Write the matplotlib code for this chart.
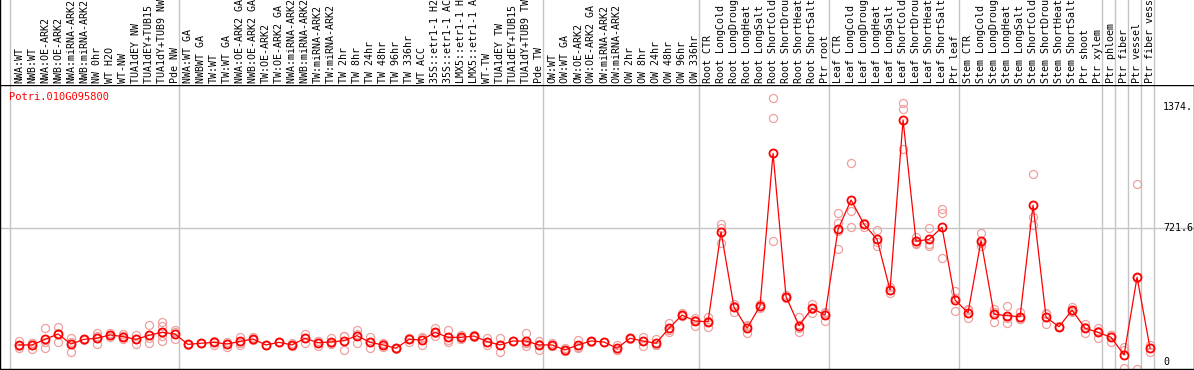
import matplotlib
matplotlib.use("Agg")
import matplotlib.pyplot as plt
import matplotlib.transforms as mtransforms

# GENE AND SAMPLE NAMES: one label per column, left to right.

gene_id = "Potri.010G095800"

labels = [
    # group 1
    "NWA:WT", "NWB:WT", "NWA:OE-ARK2", "NWB:OE-ARK2", "NWA:miRNA-ARK2",
    "NWB:miRNA-ARK2", "NW 0hr", "WT H2O", "WT-NW", "TUA1dEY NW",
    "TUA1dEY+TUB15 NW", "TUA1dY+TUB9 NW", "Pde NW",
    # group 2
    "NWA:WT GA", "NWBWT GA", "TW:WT", "TW:WT GA", "NWA:OE-ARK2 GA",
    "NWB:OE-ARK2 GA", "TW:OE-ARK2", "TW:OE-ARK2 GA", "NWA:miRNA-ARK2 GA",
    "NWB:miRNA-ARK2 GA", "TW:miRNA-ARK2", "TW:miRNA-ARK2 GA", "TW 2hr",
    "TW 8hr", "TW 24hr", "TW 48hr", "TW 96hr", "TW 336hr", "WT ACC",
    "35S::etr1-1 H2O", "35S::etr1-1 ACC", "LMX5::etr1-1 H2O",
    "LMX5::etr1-1 ACC", "WT-TW", "TUA1dEY TW", "TUA1dEY+TUB15 TW",
    "TUA1dY+TUB9 TW", "Pde TW",
    # group 3
    "OW:WT", "OW:WT GA", "OW:OE-ARK2", "OW:OE-ARK2 GA", "OW:miRNA-ARK2",
    "OW:miRNA-ARK2 GA", "OW 2hr", "OW 8hr", "OW 24hr", "OW 48hr", "OW 96hr",
    "OW 336hr",
    # root
    "Root CTR", "Root LongCold", "Root LongDrought", "Root LongHeat",
    "Root LongSalt", "Root ShortCold", "Root ShortDrought", "Root ShortHeat",
    "Root ShortSalt", "Ptr root",
    # leaf
    "Leaf CTR", "Leaf LongCold", "Leaf LongDrought", "Leaf LongHeat",
    "Leaf LongSalt", "Leaf ShortCold", "Leaf ShortDrought", "Leaf ShortHeat",
    "Leaf ShortSalt", "Ptr leaf",
    # stem
    "Stem CTR", "Stem LongCold", "Stem LongDrought", "Stem LongHeat",
    "Stem LongSalt", "Stem ShortCold", "Stem ShortDrought", "Stem ShortHeat",
    "Stem ShortSalt", "Ptr shoot", "Ptr xylem",
    # single tissues
    "Ptr phloem", "Ptr fiber", "Ptr vessel", "Ptr fiber vessel",
]

# First column of every group, plus the end.
group_starts = [0, 13, 41, 53, 63, 73, 84, 85, 86, 87, 88]

# EXPRESSION VALUES: mean per column and the single replicates.

means = [
    92, 92, 122, 151, 97, 122, 128, 146, 137, 122, 144, 160, 151,
    95, 101, 106, 97, 111, 124, 92, 106, 92, 128, 104, 108, 115, 142, 106,
    92, 74, 122, 119, 160, 133, 133, 140, 110, 92, 113, 113, 92,
    92, 65, 92, 113, 108, 74, 128, 113, 101, 182, 253, 221,
    217, 702, 295, 182, 302, 1125, 352, 196, 289, 253,
    715, 873, 742, 661, 388, 1305, 651, 661, 726, 334,
    266, 654, 257, 250, 244, 845, 241, 190, 280, 182, 160,
    133, 38, 457, 74,
]

replicates = [
    [113, 74, 88], [104, 70, 100], [182, 77, 110], [189, 108, 156],
    [128, 52, 110], [122, 126, 118], [158, 97, 130, 140], [155, 137, 146],
    [151, 122, 138], [146, 97, 123], [199, 101, 132], [214, 194, 113, 140, 160],
    [172, 122, 160],
    [95, 92], [101, 104], [92, 110, 115], [110, 83, 98], [137, 92, 105],
    [133, 118, 122], [92, 90], [106, 108], [104, 85, 88], [151, 101, 132],
    [86, 112, 114], [128, 100, 96], [140, 65, 140], [172, 104, 150],
    [137, 74, 107], [101, 79, 96], [74, 70, 78], [110, 126, 130],
    [92, 130, 135], [182, 140, 158], [172, 110, 118], [146, 128, 125],
    [146, 135, 139], [128, 92, 110], [128, 56, 92], [113, 115],
    [158, 101, 88, 105], [115, 65, 96],
    [101, 88, 87], [74, 60, 62], [119, 74, 83], [113, 115, 110], [108, 110],
    [92, 65, 66], [128, 126], [137, 88, 114], [122, 90, 92], [208, 163, 175],
    [262, 250, 248], [239, 196, 228],
    [241, 187, 223], [742, 640, 724], [271, 310, 304], [199, 155, 192],
    [313, 290, 303], [1421, 1313, 652], [361, 345, 350], [241, 163, 184],
    [313, 266, 288], [271, 223, 265],
    [802, 747, 607, 704], [1071, 814, 726], [747, 729, 750], [712, 625, 646],
    [403, 374, 387], [1394, 1362, 1147], [676, 636, 641], [721, 625, 637],
    [823, 802, 559], [383, 275, 344],
    [284, 236, 278], [694, 627, 641], [286, 217, 268], [302, 209, 239],
    [271, 230, 231], [1012, 783, 738], [262, 203, 258], [190, 188, 192],
    [295, 272, 273], [203, 155, 188], [182, 131, 167],
    [146, 106, 147], [82, -34, 66], [958, -39, 452], [92, 56, 74],
]

# Values written on the right side of the plot.
scale_ticks = [0, 721.6, 1374.8]
scale_texts = ["0", "721.6", "1374."]
grid_value = 721.6


# FIGURE LAYOUT: label strip on top, plot box below.

W, H = 1194, 370
fig = plt.figure(figsize=(W / 100, H / 100), dpi=100)

mono = "DejaVu Sans Mono"
grey = "#c4c4c4"
red = "#ff0000"
pink = "#eea0a0"

top_px = 85
bottom_px = 369
ax = fig.add_axes([0, (H - bottom_px) / H, 1, (bottom_px - top_px) / H])
ax_lab = fig.add_axes([0, (H - top_px) / H, 1, top_px / H], sharex=ax)

x_min, x_max = -1.46, 90.38
ax.set_xlim(x_min, x_max)
ax.set_ylim(-37.7, 1493)
ax_lab.set_ylim(0, 1)

for a in (ax, ax_lab):
    a.set_xticks([])
    a.set_yticks([])
    for s in a.spines.values():
        s.set_linewidth(1.0)
        s.set_color("black")
ax_lab.spines["top"].set_visible(False)
ax_lab.spines["right"].set_visible(False)
ax_lab.spines["bottom"].set_visible(False)

# Group separators run through both strips.
for b in group_starts:
    ax.axvline(b - 0.69, color=grey, lw=1.0, zorder=0)
    ax_lab.axvline(b - 0.69, color=grey, lw=1.0, zorder=0)

ax.axhline(grid_value, color=grey, lw=1.0, zorder=0)

# Column labels, rotated and cut by the top of the figure.
trans = mtransforms.blended_transform_factory(ax_lab.transData, ax_lab.transAxes)
for i, lab in enumerate(labels):
    ax_lab.text(i, 2 / top_px, lab, rotation=90, ha="center", va="bottom",
                family=mono, fontsize=7.2, color="black", transform=trans,
                clip_on=True)

# Replicates first, then the mean line on top.
xs = list(range(len(means)))
for i, reps in enumerate(replicates):
    ax.plot([i] * len(reps), reps, linestyle="none", marker="o",
            markersize=5.8, markerfacecolor="none", markeredgecolor=pink,
            markeredgewidth=0.9, zorder=2, clip_on=True)

ax.plot(xs, means, color=red, lw=0.9, marker="o", markersize=5.8,
        markerfacecolor="none", markeredgecolor=red, markeredgewidth=1.3,
        zorder=3)

# Scale values on the right.
for v, t in zip(scale_ticks, scale_texts):
    ax.text(88.0, v, t, ha="left", va="center", family=mono, fontsize=7.2,
            color="black", clip_on=True)

ax.text(9 / W, 1 - 12 / (bottom_px - top_px), gene_id, transform=ax.transAxes,
        ha="left", va="center", family=mono, fontsize=7.5, color=red)

fig.savefig("out.png", dpi=100)
